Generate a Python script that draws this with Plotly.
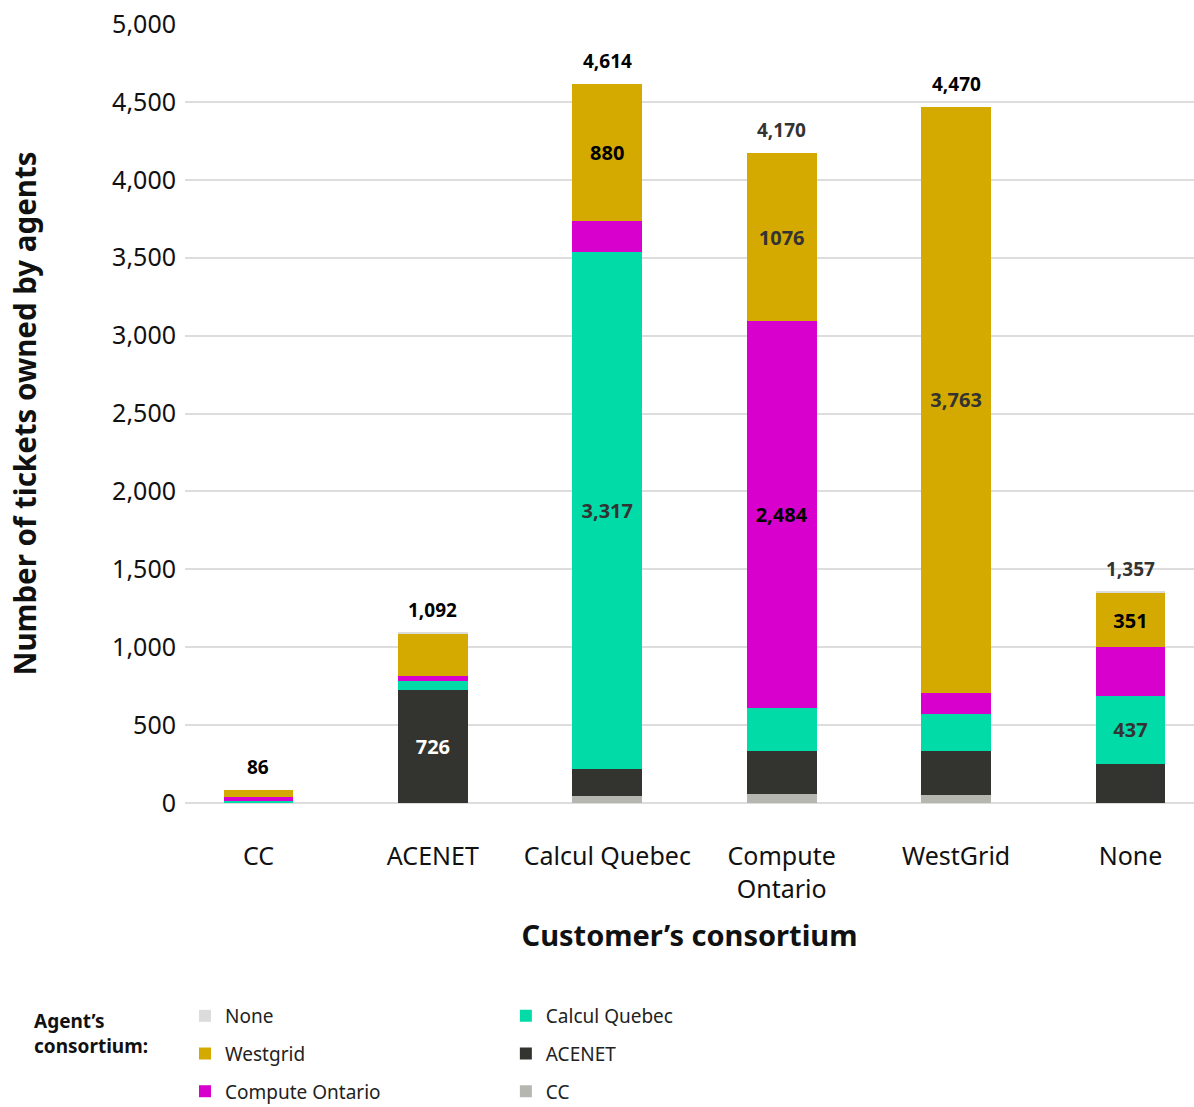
import plotly.graph_objects as go

categories = ["CC", "ACENET", "Calcul Quebec", "Compute<br>Ontario", "WestGrid", "None"]

# Agent's consortium series (stack order bottom -> top)
cc_vals       = [2,   0,   42,   60,   50,   0]
acenet_vals   = [2,   726, 175,  275,  287,  252]
cq_vals       = [8,   56,  3317, 275,  235,  437]
co_vals       = [26,  34,  200,  2484, 135,  310]
wg_vals       = [48,  270, 880,  1076, 3763, 351]
none_vals     = [0,   6,   0,    0,    0,    7]

# which segments carry a value label
cc_show     = [False] * 6
acenet_show = [False, True, False, False, False, False]
cq_show     = [False, False, True, False, False, True]
co_show     = [False, False, False, True, False, False]
wg_show     = [False, False, True, True, True, True]
none_show   = [False] * 6

acenet_txtcol = ["#fff"] * 6
cq_txtcol     = ["#333"] * 6
co_txtcol     = ["#000"] * 6
wg_txtcol     = ["#000", "#000", "#000", "#333", "#333", "#000"]

total_colors = ["#000", "#000", "#000", "#333", "#000", "#333"]

FONT = "Noto Sans"

def labels(vals, show, comma=True):
    return [(f"{v:,}" if comma else str(v)) if s else "" for v, s in zip(vals, show)]

series = [
    ("CC", cc_vals, "#b6b6b0", cc_show, ["#000"] * 6, "legend2", 3),
    ("ACENET", acenet_vals, "#33332f", acenet_show, acenet_txtcol, "legend2", 2),
    ("Calcul Quebec", cq_vals, "#00dba8", cq_show, cq_txtcol, "legend2", 1),
    ("Compute Ontario", co_vals, "#d800cd", co_show, co_txtcol, "legend", 3),
    ("Westgrid", wg_vals, "#d4aa00", wg_show, wg_txtcol, "legend", 2),
    ("None", none_vals, "#dcdcdc", none_show, ["#000"] * 6, "legend", 1),
]

fig = go.Figure()
for name, vals, color, show, tcol, leg, rank in series:
    if name == "Westgrid":
        txt = [(f"{v:,}" if i == 4 else str(v)) if s else "" for i, (v, s) in enumerate(zip(vals, show))]
    else:
        txt = labels(vals, show)
    fig.add_trace(go.Bar(
        x=categories, y=vals, name=name,
        marker=dict(color=color, line=dict(width=0)),
        text=txt, textposition="inside", insidetextanchor="middle",
        textangle=0,
        textfont=dict(family=FONT, size=20, color=tcol, weight="bold"),
        width=0.4, legend=leg, legendgroup=name, legendrank=rank,
        hoverinfo="skip",
    ))

totals = [sum(t) for t in zip(cc_vals, acenet_vals, cq_vals, co_vals, wg_vals, none_vals)]
for c, t, col in zip(categories, totals, total_colors):
    fig.add_annotation(x=c, y=t, text=f"<b>{t:,}</b>", showarrow=False,
                       yanchor="bottom", yshift=8,
                       font=dict(family=FONT, size=19, color=col))

fig.add_annotation(xref="paper", yref="paper", x=-0.152, y=-0.26,
                   xanchor="left", yanchor="top", align="left",
                   text="<b>Agent’s<br>consortium:</b>", showarrow=False,
                   font=dict(family=FONT, size=19, color="#111"))

fig.update_layout(
    width=1194, height=1107,
    margin=dict(l=185, r=0, t=24, b=304, autoexpand=False),
    barmode="stack",
    plot_bgcolor="white", paper_bgcolor="white",
    font=dict(family=FONT, color="#111"),
    xaxis=dict(
        range=[-0.421, 5.364],
        tickfont=dict(family=FONT, size=25, color="#111"),
        ticklabelstandoff=36,
        title=dict(text="<b>Customer’s consortium</b>", font=dict(family=FONT, size=29, color="#111"), standoff=22),
        showline=False, ticks="", fixedrange=True, automargin=False,
    ),
    yaxis=dict(
        range=[0, 5000], dtick=500, tickformat=",",
        tickfont=dict(family=FONT, size=25, color="#111"),
        ticklabelstandoff=8, automargin=False,
        gridcolor="#dddddd", gridwidth=1.5,
        zeroline=True, zerolinecolor="#dddddd", zerolinewidth=2,
        title=dict(text="<b>Number of tickets owned by agents</b>", font=dict(family=FONT, size=29.5, color="#111"), standoff=66),
        ticks="", ticklen=0,
    ),
    legend=dict(orientation="v", x=0.0, y=-0.249, xanchor="left", yanchor="top",
                font=dict(family=FONT, size=19, color="#222"), tracegroupgap=10,
                traceorder="grouped", itemclick=False),
    legend2=dict(orientation="v", x=0.318, y=-0.249, xanchor="left", yanchor="top",
                 font=dict(family=FONT, size=19, color="#222"), tracegroupgap=10,
                 traceorder="grouped", itemclick=False),
)

fig.write_html("out.html")
